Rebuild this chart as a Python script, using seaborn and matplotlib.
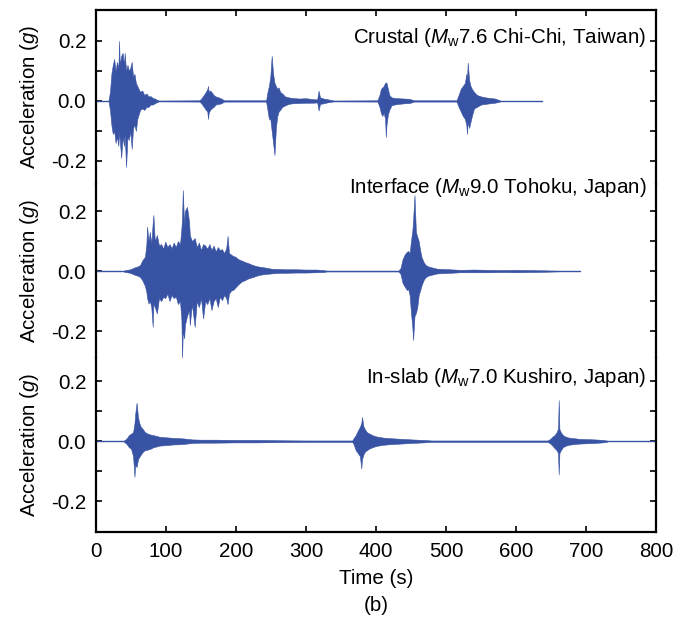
import matplotlib
matplotlib.use("Agg")
import matplotlib.pyplot as plt
import seaborn as sns
import numpy as np

# ---------------- data (envelopes, g) ----------------
# Crustal (Mw7.6 Chi-Chi, Taiwan)
crustal_t = [18, 20, 22, 24, 26, 28, 30, 32, 33, 34, 36, 38, 40, 41, 43, 45, 47, 49, 51, 53, 55, 57, 59, 61, 63,
             66, 69, 72, 75, 78, 81, 84, 87, 90,
             148, 151, 154, 157, 159, 160, 161, 163, 165, 168, 171, 175, 179, 183,
             243, 245, 247, 249, 251, 253, 255, 257, 259, 261, 263, 266, 270, 275, 280, 290, 300, 310, 316, 318, 320,
             325, 332, 340,
             402, 405, 407, 409, 411, 413, 414, 415, 417, 419, 422, 426, 432, 440, 448, 454,
             515, 518, 521, 524, 527, 529, 530, 531, 533, 535, 537, 540, 544, 550, 556, 562, 570, 577]
crustal_up = [0.003, 0.03, 0.09, 0.12, 0.14, 0.10, 0.13, 0.11, 0.20, 0.12, 0.15, 0.16, 0.12, 0.16, 0.10, 0.12,
              0.10, 0.11, 0.13, 0.08, 0.09, 0.06, 0.05, 0.04, 0.03, 0.035, 0.02, 0.025, 0.015, 0.016, 0.01, 0.008,
              0.004, 0.001,
              0.002, 0.01, 0.02, 0.03, 0.04, 0.05, 0.03, 0.035, 0.03, 0.02, 0.015, 0.012, 0.008, 0.002,
              0.002, 0.03, 0.05, 0.08, 0.15, 0.09, 0.06, 0.05, 0.04, 0.045, 0.03, 0.025, 0.015, 0.012, 0.01, 0.008,
              0.009, 0.006, 0.005, 0.034, 0.012, 0.008, 0.005, 0.001,
              0.002, 0.02, 0.04, 0.045, 0.05, 0.06, 0.062, 0.06, 0.04, 0.02, 0.012, 0.01, 0.009, 0.008, 0.007, 0.002,
              0.002, 0.02, 0.04, 0.05, 0.06, 0.09, 0.07, 0.128, 0.07, 0.05, 0.04, 0.03, 0.02, 0.015, 0.012, 0.01,
              0.008, 0.002]
crustal_lo = [-0.003, -0.03, -0.08, -0.11, -0.10, -0.14, -0.12, -0.15, -0.10, -0.13, -0.19, -0.12, -0.15, -0.11,
              -0.22, -0.12, -0.13, -0.10, -0.16, -0.09, -0.08, -0.10, -0.06, -0.045, -0.03, -0.025, -0.03, -0.02,
              -0.02, -0.012, -0.012, -0.008, -0.004, -0.001,
              -0.002, -0.01, -0.02, -0.03, -0.035, -0.06, -0.04, -0.03, -0.025, -0.02, -0.012, -0.01, -0.008, -0.002,
              -0.002, -0.03, -0.06, -0.06, -0.10, -0.14, -0.18, -0.09, -0.05, -0.035, -0.03, -0.02, -0.015, -0.01,
              -0.008, -0.007, -0.006, -0.006, -0.005, -0.032, -0.01, -0.008, -0.004, -0.001,
              -0.002, -0.02, -0.04, -0.05, -0.04, -0.06, -0.12, -0.08, -0.045, -0.03, -0.015, -0.012, -0.01, -0.008,
              -0.007, -0.002,
              -0.002, -0.02, -0.035, -0.05, -0.06, -0.08, -0.11, -0.07, -0.09, -0.07, -0.05, -0.025, -0.02, -0.012,
              -0.01, -0.008, -0.006, -0.002]
crustal_end = 637

# Interface (Mw9.0 Tohoku, Japan)
interface_t = [40, 49, 55, 60, 63, 66, 70, 72, 73, 75, 77, 79, 81, 82, 84, 87, 90, 93, 96, 99, 102, 105, 108, 111,
               114, 117, 120, 122, 123, 124, 126, 127, 130, 133, 134, 137, 141, 144, 147, 150, 153, 156, 159, 162,
               165, 168, 171, 174, 177, 180, 183, 186, 188, 190, 193, 196, 199, 203, 208, 213, 218, 224, 230, 235,
               241, 250, 260, 270, 285, 300, 315, 325, 330,
               432, 435, 438, 441, 444, 446, 448, 450, 452, 453, 455, 457, 459, 461, 463, 465, 468, 471, 475, 480,
               487, 495, 505, 520, 540, 560, 580, 600, 620, 645, 660]
interface_up = [0.002, 0.006, 0.012, 0.016, 0.02, 0.035, 0.048, 0.09, 0.148, 0.10, 0.13, 0.09, 0.16, 0.187,
                0.10, 0.12, 0.085, 0.09, 0.075, 0.098, 0.08, 0.09, 0.076, 0.095, 0.08, 0.10, 0.09, 0.14, 0.18, 0.27,
                0.15, 0.20, 0.214, 0.164, 0.12, 0.10, 0.11, 0.08, 0.095, 0.07, 0.09, 0.085, 0.075, 0.09, 0.07,
                0.085, 0.065, 0.08, 0.07, 0.073, 0.06, 0.075, 0.117, 0.06, 0.055, 0.05, 0.048, 0.04, 0.035, 0.03,
                0.026, 0.02, 0.016, 0.014, 0.012, 0.008, 0.007, 0.006, 0.006, 0.005, 0.005, 0.003, 0.001,
                0.001, 0.01, 0.04, 0.055, 0.064, 0.067, 0.06, 0.10, 0.137, 0.17, 0.253, 0.13, 0.114, 0.10, 0.07,
                0.047, 0.03, 0.02, 0.015, 0.012, 0.008, 0.007, 0.006, 0.004, 0.005, 0.004, 0.003, 0.004, 0.003,
                0.002, 0.001]
interface_lo = [-0.002, -0.006, -0.012, -0.016, -0.02, -0.03, -0.05, -0.07, -0.09, -0.108, -0.10, -0.12, -0.186,
                -0.11, -0.12, -0.141, -0.09, -0.10, -0.086, -0.09, -0.075, -0.10, -0.08, -0.09, -0.085, -0.11,
                -0.10, -0.16, -0.291, -0.20, -0.224, -0.18, -0.15, -0.13, -0.18, -0.11, -0.186, -0.10, -0.12, -0.09,
                -0.158, -0.10, -0.11, -0.09, -0.13, -0.10, -0.09, -0.12, -0.085, -0.097, -0.08, -0.09, -0.11,
                -0.075, -0.065, -0.063, -0.055, -0.045, -0.035, -0.03, -0.024, -0.02, -0.015, -0.012, -0.01,
                -0.008, -0.006, -0.006, -0.005, -0.005, -0.004, -0.003, -0.001,
                -0.001, -0.01, -0.04, -0.052, -0.063, -0.06, -0.08, -0.14, -0.19, -0.23, -0.15, -0.14, -0.12, -0.08,
                -0.065, -0.048, -0.03, -0.02, -0.015, -0.012, -0.008, -0.007, -0.006, -0.004, -0.004, -0.004,
                -0.003, -0.004, -0.003, -0.002, -0.001]
interface_end = 691

# In-slab (Mw7.0 Kushiro, Japan)
inslab_t = [40, 44, 47, 50, 53, 55, 56, 58, 60, 62, 64, 67, 70, 74, 78, 82, 86, 90, 95, 100, 110, 120, 130, 137,
            150, 170, 200, 230, 261, 300, 357,
            366, 368, 371, 374, 377, 379, 380, 382, 384, 387, 390, 395, 400, 410, 420, 435, 450, 468, 480,
            645, 649, 652, 655, 658, 660, 661, 662, 664, 667, 670, 675, 682, 690, 700, 712, 724, 730]
inslab_up = [0.002, 0.01, 0.02, 0.025, 0.03, 0.06, 0.09, 0.128, 0.08, 0.06, 0.048, 0.04, 0.03, 0.025, 0.022,
             0.02, 0.018, 0.015, 0.014, 0.013, 0.011, 0.01, 0.008, 0.006, 0.005, 0.005, 0.004, 0.004, 0.003,
             0.002, 0.002,
             0.002, 0.01, 0.02, 0.035, 0.048, 0.06, 0.081, 0.05, 0.04, 0.03, 0.026, 0.02, 0.016, 0.012, 0.01,
             0.008, 0.006, 0.004, 0.002,
             0.002, 0.008, 0.015, 0.02, 0.03, 0.042, 0.137, 0.04, 0.03, 0.02, 0.016, 0.012, 0.01, 0.008, 0.007,
             0.006, 0.004, 0.002]
inslab_lo = [-0.002, -0.01, -0.02, -0.025, -0.05, -0.119, -0.08, -0.086, -0.06, -0.052, -0.045, -0.035, -0.03,
             -0.028, -0.025, -0.02, -0.018, -0.015, -0.014, -0.013, -0.011, -0.01, -0.008, -0.006, -0.005, -0.005,
             -0.004, -0.004, -0.003, -0.002, -0.002,
             -0.002, -0.01, -0.03, -0.04, -0.05, -0.091, -0.06, -0.045, -0.035, -0.03, -0.025, -0.02, -0.016,
             -0.012, -0.01, -0.008, -0.006, -0.004, -0.002,
             -0.002, -0.008, -0.015, -0.023, -0.03, -0.04, -0.111, -0.04, -0.03, -0.02, -0.016, -0.012, -0.01,
             -0.008, -0.007, -0.006, -0.004, -0.002]
inslab_end = 800

titles = [r"Crustal ($M_\mathrm{w}$7.6 Chi-Chi, Taiwan)",
          r"Interface ($M_\mathrm{w}$9.0 Tohoku, Japan)",
          r"In-slab ($M_\mathrm{w}$7.0 Kushiro, Japan)"]
title_y = [0.213, 0.28, 0.213]
ylims = [(-0.277, 0.303), (-0.29, 0.29), (-0.303, 0.277)]
ytick_vals = [-0.2, -0.1, 0.0, 0.1, 0.2]
ytick_labels = ["-0.2", "", "0.0", "", "0.2"]
xtick_vals = [0, 100, 200, 300, 400, 500, 600, 700, 800]

# ---------------- style ----------------
sns.set_theme(style="ticks")
fam = "Liberation Sans"
plt.rcParams["font.family"] = [fam, "DejaVu Sans"]
plt.rcParams["mathtext.fontset"] = "custom"
plt.rcParams["mathtext.rm"] = fam
plt.rcParams["mathtext.it"] = fam + ":italic"
plt.rcParams["mathtext.default"] = "it"
for key in ["text.color", "axes.labelcolor", "xtick.color", "ytick.color", "axes.edgecolor"]:
    plt.rcParams[key] = "black"

color = "#3953a4"
fs = 14.8

fig, axes = plt.subplots(3, 1, figsize=(6.92, 6.26), dpi=100, sharex=True)
fig.subplots_adjust(left=0.1387, right=0.948, top=0.984, bottom=0.150, hspace=0)

tracks = [(crustal_t, crustal_up, crustal_lo, crustal_end),
          (interface_t, interface_up, interface_lo, interface_end),
          (inslab_t, inslab_up, inslab_lo, inslab_end)]

for i, (ax, (t, up, lo, end)) in enumerate(zip(axes, tracks)):
    sns.lineplot(x=[0, end], y=[0, 0], ax=ax, color=color, linewidth=1.0)
    ax.fill_between(t, lo, up, color=color, linewidth=0.4, edgecolor=color)
    ax.set_xlim(0, 800)
    ax.set_ylim(*ylims[i])
    ax.set_yticks(ytick_vals)
    ax.set_yticklabels(ytick_labels, fontsize=fs)
    ax.set_ylabel(r"Acceleration ($g$)", fontsize=fs, labelpad=7)
    ax.text(786, title_y[i], titles[i], ha="right", va="center", fontsize=fs)
    ax.tick_params(axis="y", direction="in", left=True, right=True, length=4, width=1.2, pad=7)
    ax.tick_params(axis="x", direction="in", top=(i == 0), bottom=(i == 2), length=4, width=1.2,
                   labelbottom=(i == 2), labelsize=fs, pad=7)
    for s in ax.spines.values():
        s.set_linewidth(1.6)
        s.set_color("black")
    if i > 0:
        ax.spines["top"].set_visible(False)
    if i < 2:
        ax.spines["bottom"].set_visible(False)

axes[2].set_xticks(xtick_vals)
axes[2].set_xlabel("Time (s)", fontsize=fs, labelpad=6)
fig.text(0.543, 0.032, "(b)", ha="center", va="center", fontsize=fs)

fig.savefig("out.png", dpi=100)
